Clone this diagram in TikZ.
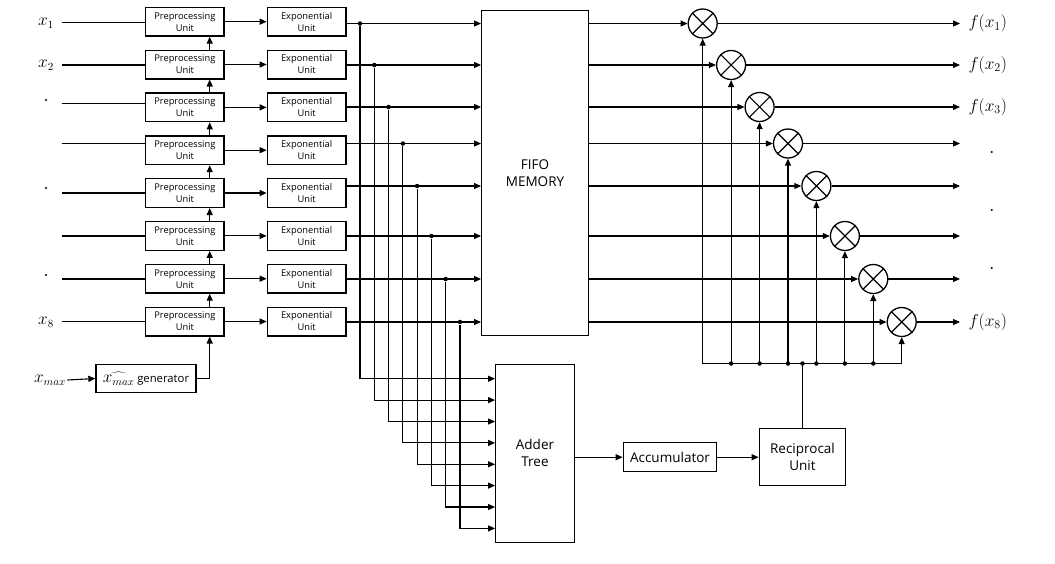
\documentclass[tikz,border=0pt]{standalone}
\usepackage{fontspec}
\setsansfont{Open Sans}
\usetikzlibrary{arrows.meta, positioning, calc}

\begin{document}
\begin{tikzpicture}[
  x=1pt, y=-1pt,
  line width=1.1pt,
  unit/.style = {
    draw, line width=1.3pt, inner sep=0pt, align=center,
    minimum height=28.7pt, font=\sffamily\fontsize{9.3}{12}\selectfont
  },
  pre/.style  = { unit, minimum width=78.3pt },
  expo/.style = { unit, minimum width=78.7pt },
  blk/.style  = {
    draw, line width=1.3pt, inner sep=0pt, align=center,
    font=\sffamily\fontsize{13.5}{17}\selectfont
  },
  mult/.style = { draw, circle, line width=1.3pt, minimum size=29pt, inner sep=0pt },
  junc/.style = { circle, fill, inner sep=0pt, minimum size=4.5pt },
  vdot/.style = { circle, fill, inner sep=0pt, minimum size=2.2pt },
  lbl/.style  = { font=\fontsize{16}{18}\selectfont, inner sep=1pt },
  flbl/.style = { font=\fontsize{17}{19}\selectfont, inner sep=1pt },
  arr/.style  = { -{Triangle[length=7pt, width=6pt]} }
]
\useasboundingbox (0,0) rectangle (1055,563);

% big blocks
\node[blk, minimum width=106.6pt, minimum height=325pt] (fifo)  at (535,173.2) {FIFO\\MEMORY};
\node[blk, minimum width=78.6pt,  minimum height=178pt] (adder) at (535,453.3) {Adder\\Tree};
\node[blk, minimum width=93.4pt,  minimum height=29pt]  (acc)   at (670,457.2) {Accumulator};
\node[blk, minimum width=86.4pt,  minimum height=57.4pt] (recip) at (802.5,457) {Reciprocal\\Unit};
\coordinate (bus) at (0,363.5);

% one row per input
\foreach \i/\yb/\yl/\yr/\ya/\xd/\xm in {
  1/21.7/22.5/23.5/378.7/360/702.7,
  2/64.5/65/65/400.1/374.3/731.1,
  3/107.4/103.3/107/421.5/388.6/759.6,
  4/150.2/143.3/143.5/442.9/402.9/788,
  5/193/193/186/464.3/417.1/816.4,
  6/235.9/236/236/485.6/431.4/844.9,
  7/278.7/279/279/507/445.7/873.3,
  8/321.5/321.7/322/528.4/460/901.7} {
  \node[pre]  (p\i) at (184.85,\yb) {Preprocessing\\Unit};
  \node[expo] (e\i) at (306.65,\yb) {Exponential\\Unit};
  \coordinate (in\i) at (61.5,\yl);
  \coordinate (r\i)  at (0,\yr);
  \coordinate (a\i)  at (0,\ya);
  \node[junc] (j\i) at (\xd,\yr) {};
  \node[mult] (m\i) at (\xm,\yr) {};
  \coordinate (o\i) at (960,\yr);
}

\foreach \i in {1,...,8} {
  \draw (in\i) -- (p\i.west |- in\i);
  \draw[arr] (p\i.east) -- (e\i.west);
  \draw[arr] (e\i.east |- r\i) -- (fifo.west |- r\i);
  \draw[arr] (j\i) |- (adder.west |- a\i);
  \draw[arr] (fifo.east |- r\i) -- (m\i.west);
  \draw[arr] (m\i.east) -- (o\i);
  \draw[line width=1.2pt] (m\i.north east) -- (m\i.south west)
                          (m\i.north west) -- (m\i.south east);
  \draw[arr] (m\i |- bus) -- (m\i.south);
}

% chain of preprocessing units
\foreach \i [evaluate=\i as \j using int(\i+1)] in {1,...,7}
  \draw[arr] ([xshift=24.85pt]p\j.north) -- ([xshift=24.85pt]p\i.south);

\node[unit, minimum width=100pt, minimum height=28.4pt, font=\sffamily\fontsize{16}{16}\selectfont]
  (gen) at (146,378.5) {$\widehat{x_{max}}$\,{\fontsize{11.3}{13}\selectfont generator}};
\node[lbl] (xmax) at (50,380) {$x_{max}$};
\draw[arr] (xmax.east) -- (gen.west);
\draw[arr] (gen.east) -| ([xshift=24.85pt]p8.south);

% inputs
\node[lbl] (x1) at (46,23) {$x_1$};
\node[lbl] (x2) at (46,65) {$x_2$};
\node[lbl] (x8) at (46,322) {$x_8$};
\node[vdot] (ld3) at (46,100) {};
\node[vdot] (ld5) at (46,188) {};
\node[vdot] (ld7) at (46,275) {};

% outputs
\node[flbl, right=7pt of o1] (f1) {$f(x_1)$};
\node[flbl, right=7pt of o2] (f2) {$f(x_2)$};
\node[flbl, right=7pt of o3] (f3) {$f(x_3)$};
\node[flbl, right=7pt of o8] (f8) {$f(x_8)$};
\node[vdot] (rd1) at (991.7,152) {};
\node[vdot] (rd2) at (991.7,210) {};
\node[vdot] (rd3) at (991.7,268) {};

% sum path
\draw[arr] (adder.east |- acc.west) -- (acc.west);
\draw[arr] (acc.east) -- (recip.west |- acc.east);
\draw (m1 |- bus) -- (m8 |- bus);
\draw (recip.north) -- (recip |- bus);
\node[junc] (rj) at (recip |- bus) {};
\foreach \i in {2,...,7}
  \node[junc] (bj\i) at (m\i |- bus) {};

\end{tikzpicture}
\end{document}
